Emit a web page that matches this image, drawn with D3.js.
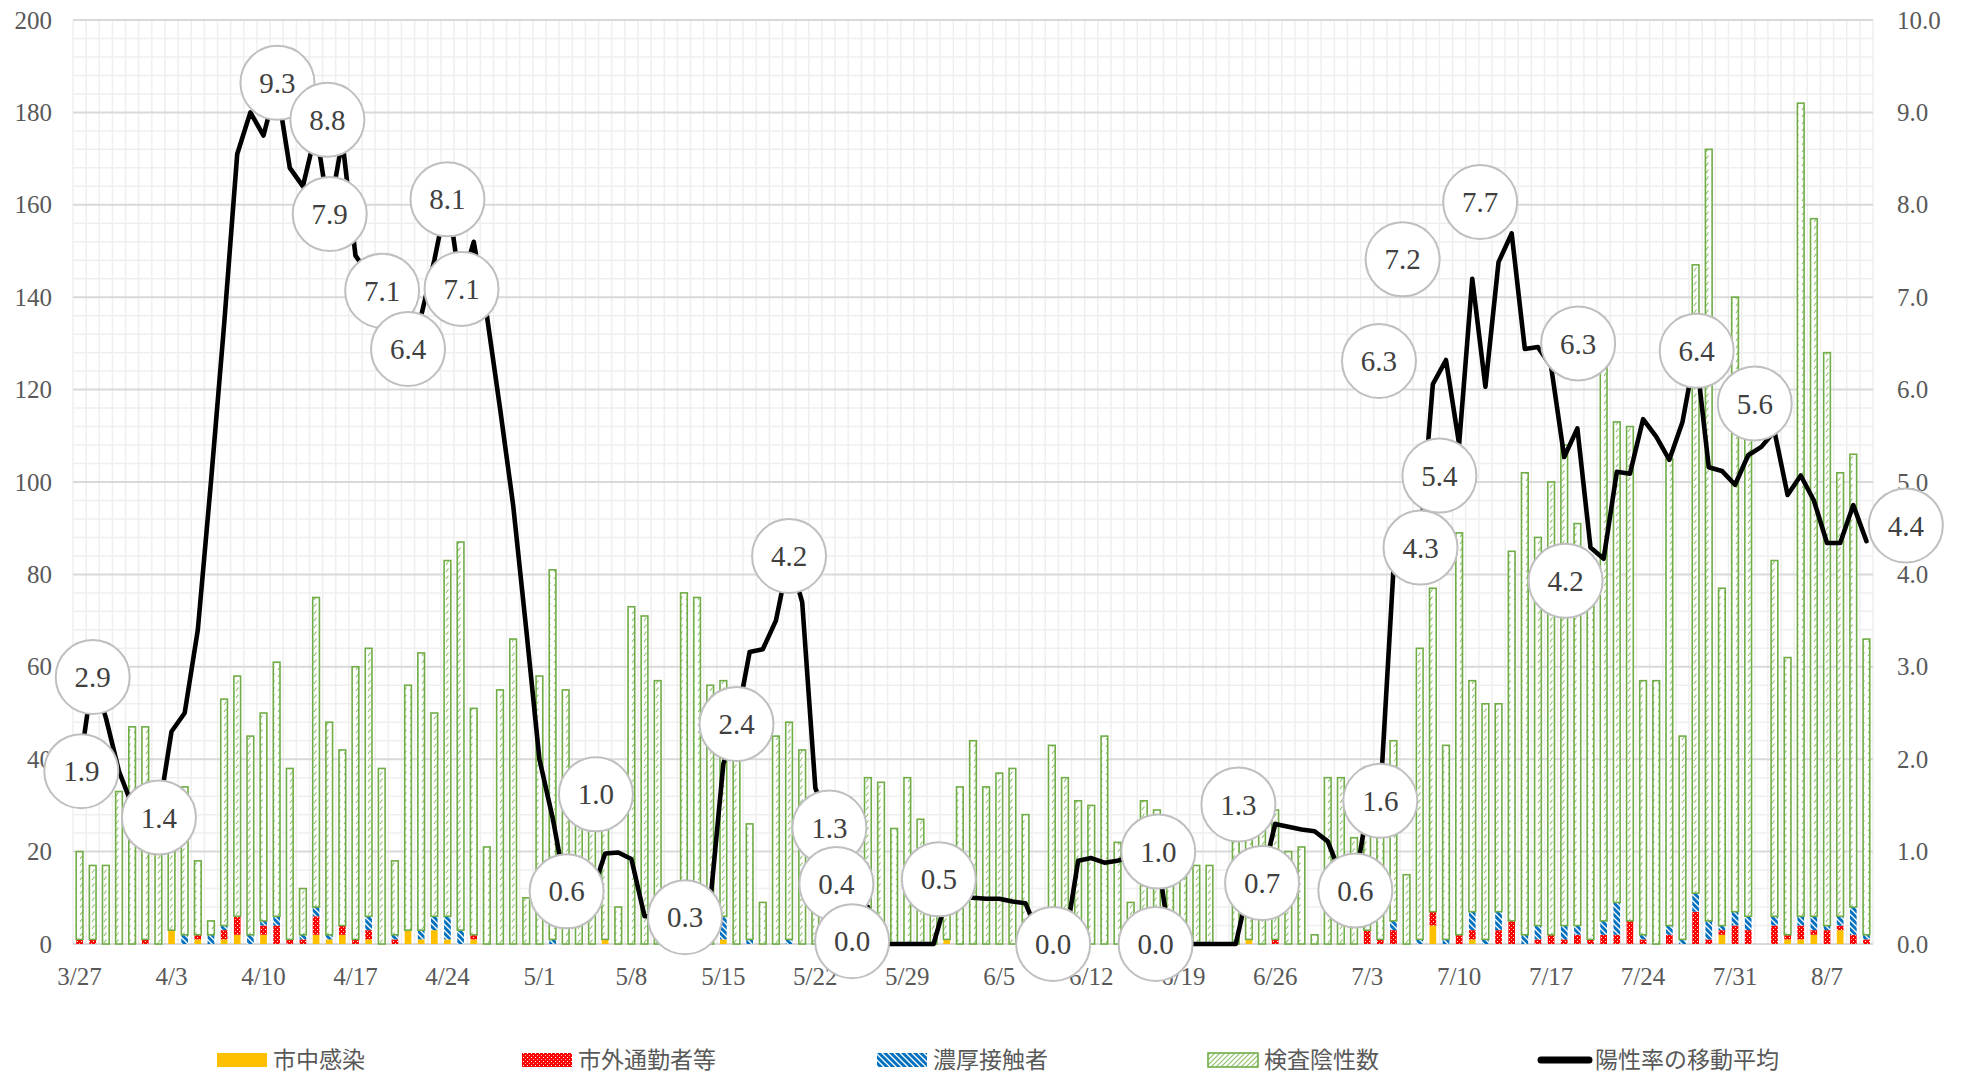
<!DOCTYPE html>
<html><head><meta charset="utf-8">
<script src="https://cdn.jsdelivr.net/npm/d3@7"></script>
<style>body{margin:0;background:#fff;} svg{display:block;}</style>
</head><body><svg id="chart" width="1964" height="1075"></svg>
<script>
// ---------- DATA ----------
const categories = [
"3/27","3/28","3/29","3/30","3/31",
"4/1","4/2","4/3","4/4","4/5","4/6","4/7","4/8","4/9","4/10","4/11","4/12","4/13","4/14","4/15",
"4/16","4/17","4/18","4/19","4/20","4/21","4/22","4/23","4/24","4/25","4/26","4/27","4/28","4/29","4/30",
"5/1","5/2","5/3","5/4","5/5","5/6","5/7","5/8","5/9","5/10","5/11","5/12","5/13","5/14","5/15","5/16",
"5/17","5/18","5/19","5/20","5/21","5/22","5/23","5/24","5/25","5/26","5/27","5/28","5/29","5/30","5/31",
"6/1","6/2","6/3","6/4","6/5","6/6","6/7","6/8","6/9","6/10","6/11","6/12","6/13","6/14","6/15",
"6/16","6/17","6/18","6/19","6/20","6/21","6/22","6/23","6/24","6/25","6/26","6/27","6/28","6/29","6/30",
"7/1","7/2","7/3","7/4","7/5","7/6","7/7","7/8","7/9","7/10","7/11","7/12","7/13","7/14","7/15","7/16",
"7/17","7/18","7/19","7/20","7/21","7/22","7/23","7/24","7/25","7/26","7/27","7/28","7/29","7/30","7/31",
"8/1","8/2","8/3","8/4","8/5","8/6","8/7","8/8","8/9","8/10"];

const tickLabels = ["3/27","4/3","4/10","4/17","4/24","5/1","5/8","5/15","5/22","5/29",
"6/5","6/12","6/19","6/26","7/3","7/10","7/17","7/24","7/31","8/7"];
const leftTicks = [0,20,40,60,80,100,120,140,160,180,200];
const rightTicks = [0,1,2,3,4,5,6,7,8,9,10];

// 市中感染
const community = [
0,0,0,0,0,0,0,3,0,1, 0,1,2,0,2,0,0,0,2,1, 2,0,1,0,0,3,1,3,1,0, 1,0,0,0,0,0,0,0,0,0,
1,0,0,0,0,0,0,0,0,1, 0,0,0,0,0,0,0,0,0,0, 0,0,0,0,0,0,1,0,0,0, 0,0,0,0,0,0,0,0,0,0,
0,0,0,0,0,0,0,0,0,1, 0,0,0,0,0,0,0,0,0,0, 0,0,0,4,0,0,1,0,0,0, 0,0,0,0,0,0,0,0,0,0,
0,0,0,0,0,2,0,0,0,0, 1,1,2,0,3,0,0];
// 市外通勤者等
const commuter = [
1,1,0,0,0,1,0,0,0,1, 0,2,4,0,2,4,1,1,4,0, 2,1,2,0,1,0,0,0,0,0, 1,0,0,0,0,0,0,0,0,0,
0,0,0,0,0,0,0,0,0,0, 0,0,0,0,0,0,0,0,0,0, 0,0,0,0,0,0,0,0,0,0, 0,0,0,0,0,0,0,0,0,0,
0,0,0,0,0,0,0,0,0,0, 0,1,0,0,0,0,0,0,3,1, 3,0,0,3,0,2,2,0,3,5, 0,1,2,1,2,1,2,2,5,1,
0,2,0,7,1,1,4,3,0,4, 1,3,1,3,1,2,1];
// 濃厚接触者
const closeContact = [
0,0,0,0,0,0,0,0,2,0, 2,1,0,2,1,2,0,1,2,1, 0,0,3,0,1,0,2,3,5,3, 0,0,0,0,0,0,1,0,0,0,
0,0,0,0,0,0,0,0,0,5, 0,1,0,0,1,0,0,0,0,0, 0,0,0,0,0,0,0,0,0,0, 0,0,0,0,0,0,0,0,0,0,
0,0,0,0,0,0,0,0,0,0, 0,0,0,0,0,0,0,0,0,0, 2,0,1,0,1,0,4,1,4,0, 2,3,0,3,2,0,3,7,0,1,
0,2,1,4,4,1,3,3,0,2, 0,2,3,1,2,6,1];
// 検査陰性数
const negative = [
19,16,17,33,47,46,28,25,32,16, 3,49,52,43,45,55,37,10,67,46, 38,59,58,38,16,53,60,44,77,84,
49,21,55,66,10,58,80,55,30,27, 25,8,73,71,57,6,76,75,56,51, 48,25,9,45,47,42,25,20,15,18,
36,35,25,36,27,15,9,34,44,34, 37,38,28,7,43,36,31,30,45,22, 9,31,29,20,18,17,17,0,28,24,
25,28,20,21,2,36,36,23,25,24, 39,15,63,70,42,87,50,51,45,80, 100,84,98,104,87,77,120,104,107,55,
57,101,44,136,167,73,133,104,0,77, 60,176,151,124,96,98,64];
// 陽性率の移動平均 (%)
const positiveRate = [
1.9,2.9,2.45,1.87,1.5,1.4,1.4,2.3,2.5,3.4, 5.0,6.7,8.55,9.0,8.75,9.3,8.4,8.2,8.8,7.9,
8.7,7.45,7.25,7.1,6.7,6.4,6.8,7.4,8.1,7.1, 7.6,6.8,5.8,4.75,3.4,2.0,1.37,0.6,0.55,0.55,
0.98,0.99,0.92,0.3,0.3,0.3,0.3,0.3,0.45,1.95, 2.4,3.16,3.19,3.5,4.2,3.7,1.69,1.3,0.8,0.45,
0.4,0,0,0,0,0,0.5,0.5,0.5,0.49, 0.49,0.46,0.44,0.1,0,0,0.9,0.93,0.88,0.9,
0.95,0.97,1.0,0,0,0,0,0,0,0.63, 0.7,1.3,1.27,1.24,1.22,1.11,0.75,0.6,1.45,1.6,
4.05,4.2,4.3,6.06,6.32,5.41,7.2,6.03,7.38,7.69, 6.44,6.46,6.25,5.27,5.58,4.29,4.17,5.11,5.09,5.68,
5.49,5.24,5.65,6.42,5.16,5.12,4.97,5.29,5.38,5.55, 4.86,5.07,4.8,4.34,4.34,4.75,4.36];

// data labels of the line: [text, category position (index), value position]
const rateLabels = [
["1.9",0.13,1.87],["2.9",1.0,2.89],["1.4",6.04,1.37],["9.3",15.06,9.32],["8.8",18.86,8.92],
["7.9",19.04,7.9],["7.1",23.03,7.07],["6.4",25.0,6.44],["8.1",28.0,8.06],["7.1",29.07,7.09],
["1.0",39.3,1.62],["0.6",37.07,0.57],["0.3",46.08,0.29],["2.4",50.0,2.38],["4.2",54.0,4.2],
["1.3",57.07,1.26],["0.4",57.6,0.65],["0.0",58.8,0.03],["0.5",65.4,0.70],["0.0",74.1,0.0],
["1.0",82.1,1.0],["0.0",81.9,0.0],["1.3",88.2,1.51],["0.7",90.0,0.66],["0.6",97.1,0.58],
["1.6",99.0,1.55],["6.3",98.9,6.31],["7.2",100.7,7.41],["7.7",106.6,8.03],["5.4",103.5,5.07],
["4.3",102.06,4.29],["6.3",114.06,6.5],["4.2",113.1,3.93],["6.4",123.08,6.42],["5.6",127.5,5.85],
["4.4",139.0,4.53]];

const seriesNames = ["市中感染","市外通勤者等","濃厚接触者","検査陰性数","陽性率の移動平均"];

// ---------- LAYOUT ----------
const svg = d3.select("#chart");
const plot = {left:73, right:1873, top:20, bottom:944};
const serif = "'Liberation Serif','DejaVu Serif',serif";
const cjk = "'Noto Sans CJK JP','Noto Sans',sans-serif";
const txtColor = "#595959";

svg.append("rect").attr("width",1964).attr("height",1075).attr("fill","#fff");

// patterns
const defs = svg.append("defs");
const pg = defs.append("pattern").attr("id","pGreen").attr("patternUnits","userSpaceOnUse").attr("width",6).attr("height",7);
pg.append("rect").attr("width",6).attr("height",7).attr("fill","#fff");
pg.append("path").attr("d","M2,5 L4.5,1.5").attr("stroke","#8cc06a").attr("stroke-width",1.1);
const pgl = defs.append("pattern").attr("id","pGreenLeg").attr("patternUnits","userSpaceOnUse").attr("width",5).attr("height",5);
pgl.append("rect").attr("width",5).attr("height",5).attr("fill","#fff");
pgl.append("path").attr("d","M0,5 L5,0 M-1,1 L1,-1 M4,6 L6,4").attr("stroke","#8cc06a").attr("stroke-width",1.1);
const pr = defs.append("pattern").attr("id","pRed").attr("patternUnits","userSpaceOnUse").attr("width",4).attr("height",4);
pr.append("rect").attr("width",4).attr("height",4).attr("fill","#ff0000");
pr.append("rect").attr("x",1).attr("y",1).attr("width",1).attr("height",1).attr("fill","#fff");
pr.append("rect").attr("x",3).attr("y",3).attr("width",1).attr("height",1).attr("fill","#ffb0b0");
const pb = defs.append("pattern").attr("id","pBlue").attr("patternUnits","userSpaceOnUse").attr("width",6).attr("height",6);
pb.append("rect").attr("width",6).attr("height",6).attr("fill","#0070c0");
pb.append("path").attr("d","M0,0 L6,6 M-1,5 L1,7 M5,-1 L7,1").attr("stroke","#fff").attr("stroke-width",1.3);

// scales
const x = d3.scaleBand().domain(categories).range([plot.left, plot.right]).paddingInner(0).paddingOuter(0);
const bw = x.bandwidth();
const xc = d3.scaleLinear().domain([0, categories.length-1])
  .range([x(categories[0]) + bw/2, x(categories[categories.length-1]) + bw/2]);
const yL = d3.scaleLinear().domain([0,200]).range([plot.bottom, plot.top]);
const yR = d3.scaleLinear().domain([0,10]).range([plot.bottom, plot.top]);

// gridlines
const grid = svg.append("g");
grid.selectAll("line.minor").data(d3.range(0,201,4).filter(v=>v%20!==0)).join("line")
  .attr("x1",plot.left).attr("x2",plot.right).attr("y1",d=>yL(d)).attr("y2",d=>yL(d))
  .attr("stroke","#efefef").attr("stroke-width",1.5);
grid.selectAll("line.vert").data(categories.concat(["__end"])).join("line")
  .attr("x1",d=>d==="__end"?plot.right:x(d)).attr("x2",d=>d==="__end"?plot.right:x(d))
  .attr("y1",plot.top).attr("y2",plot.bottom)
  .attr("stroke","#efefef").attr("stroke-width",1.5);
grid.selectAll("line.major").data(leftTicks).join("line")
  .attr("x1",plot.left).attr("x2",plot.right).attr("y1",d=>yL(d)).attr("y2",d=>yL(d))
  .attr("stroke","#d9d9d9").attr("stroke-width",2);

// stacked bars
const rows = categories.map((c,i)=>({cat:c, community:community[i], commuter:commuter[i], close:closeContact[i], negative:negative[i]}));
const keys = ["community","commuter","close","negative"];
const fills = {community:"#ffc000", commuter:"url(#pRed)", close:"url(#pBlue)", negative:"url(#pGreen)"};
const stacked = d3.stack().keys(keys)(rows);
const barW = bw*0.51;
const barG = svg.append("g");
stacked.forEach(layer=>{
  barG.append("g").selectAll("rect").data(layer.filter(d=>d[1]-d[0]>0)).join("rect")
    .attr("x",d=>x(d.data.cat)+(bw-barW)/2)
    .attr("width",barW)
    .attr("y",d=>yL(d[1]))
    .attr("height",d=>yL(d[0])-yL(d[1]))
    .attr("fill",fills[layer.key])
    .attr("stroke",layer.key==="negative"?"#70ad47":"none")
    .attr("stroke-width",layer.key==="negative"?1.6:0);
});

// axes
const axL = svg.append("g").attr("transform",`translate(${plot.left},0)`)
  .call(d3.axisLeft(yL).tickValues(leftTicks).tickSize(0).tickPadding(21));
const axR = svg.append("g").attr("transform",`translate(${plot.right},0)`)
  .call(d3.axisRight(yR).tickValues(rightTicks).tickSize(0).tickPadding(24).tickFormat(d3.format(".1f")));
const axB = svg.append("g").attr("transform",`translate(0,${plot.bottom})`)
  .call(d3.axisBottom(x).tickValues(tickLabels).tickSize(0).tickPadding(23));
[axL,axR,axB].forEach(a=>{
  a.select(".domain").remove();
  a.selectAll("text").attr("font-family",serif).attr("font-size",25).attr("fill",txtColor);
});

// line
const line = d3.line().x((d,i)=>xc(i)).y(d=>yR(d));
svg.append("path").datum(positiveRate).attr("d",line)
  .attr("fill","none").attr("stroke","#000").attr("stroke-width",4.6)
  .attr("stroke-linejoin","round").attr("stroke-linecap","round");

// data labels
const lg = svg.append("g").selectAll("g").data(rateLabels).join("g")
  .attr("transform",d=>`translate(${xc(d[1])},${yR(d[2])})`);
lg.append("circle").attr("r",37).attr("fill","#fff").attr("stroke","#bfbfbf").attr("stroke-width",2);
lg.append("text").text(d=>d[0]).attr("text-anchor","middle").attr("dy","0.35em")
  .attr("font-family",serif).attr("font-size",29).attr("fill","#404040");

// legend
const legendX = [217, 522, 877, 1208, 1538];
const legendY = 1060;
const legFill = ["#ffc000","url(#pRed)","url(#pBlue)","url(#pGreenLeg)",null];
const leg = svg.append("g").selectAll("g").data(seriesNames).join("g")
  .attr("transform",(d,i)=>`translate(${legendX[i]},${legendY})`);
leg.each(function(d,i){
  const g = d3.select(this);
  if (legFill[i]) {
    g.append("rect").attr("x",0).attr("y",-7).attr("width",50).attr("height",14)
      .attr("fill",legFill[i])
      .attr("stroke", i===3?"#70ad47":"none").attr("stroke-width",i===3?1.6:0);
  } else {
    g.append("line").attr("x1",3).attr("x2",51).attr("y1",0).attr("y2",0)
      .attr("stroke","#000").attr("stroke-width",7).attr("stroke-linecap","round");
  }
  g.append("text").text(d).attr("x",i===4?57:56).attr("dy","0.35em")
    .attr("font-family",cjk).attr("font-size",23).attr("fill",txtColor);
});
</script></body></html>
